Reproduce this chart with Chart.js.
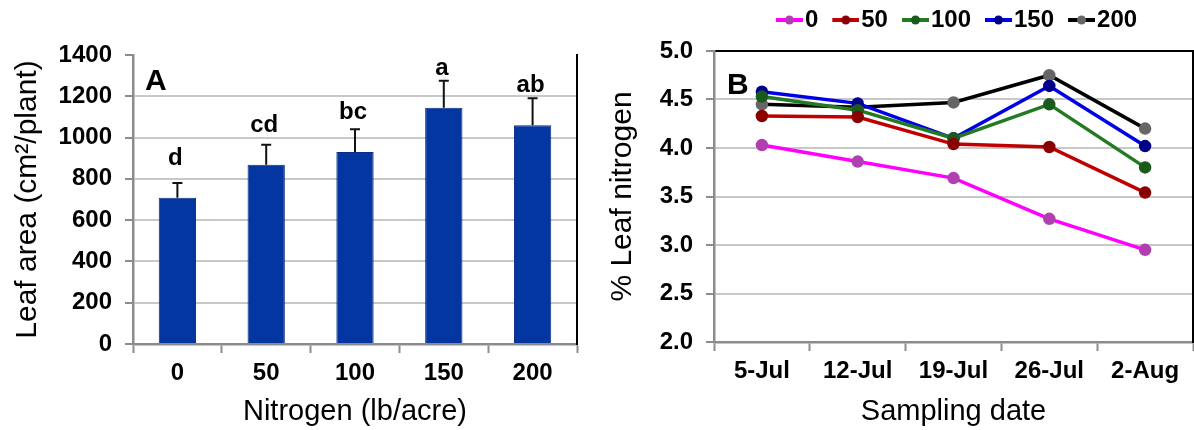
<!DOCTYPE html>
<html>
<head>
<meta charset="utf-8">
<script src="https://cdn.jsdelivr.net/npm/chart.js@4.4.1/dist/chart.umd.min.js"></script>
<style>
  html, body { margin: 0; padding: 0; background: #fff; overflow: hidden; }
  #panelA { position: absolute; left: 0; top: 0; width: 600px; height: 430px; }
  #panelB { position: absolute; left: 595px; top: 0; width: 599px; height: 430px; }
</style>
</head>
<body>
<div id="panelA"><canvas id="chartA"></canvas></div>
<div id="panelB"><canvas id="chartB"></canvas></div>
<script>
// * Panel A data
const nitrogenRates = ["0", "50", "100", "150", "200"];
const leafArea = [708, 868, 930, 1145, 1060];
const leafAreaErr = [72, 97, 110, 130, 130];
const sigLetters = ["d", "cd", "bc", "a", "ab"];

// * Panel B data
const samplingDates = ["5-Jul", "12-Jul", "19-Jul", "26-Jul", "2-Aug"];
const seriesNames = ["0", "50", "100", "150", "200"];
const n0 = [4.03, 3.86, 3.69, 3.27, 2.95];
const n50 = [4.33, 4.32, 4.04, 4.01, 3.54];
const n100 = [4.53, 4.39, 4.10, 4.45, 3.80];
const n150 = [4.58, 4.46, 4.10, 4.64, 4.02];
const n200 = [4.45, 4.42, 4.47, 4.75, 4.20];

const lineColors = ["#ff00ff", "#c00000", "#237a23", "#0000e6", "#000000"];
const dotColors = ["#b040b0", "#8a0000", "#1a5a1a", "#00008b", "#666666"];

Chart.defaults.font.family = "'Liberation Sans', Arial, sans-serif";
Chart.defaults.color = "#000";

const axisGrey = "#8c8c8c";
const gridGrey = "#c8c8c8";

// * Draws the "A" / "B" panel letter inside the plot
const panelLetter = {
    id: "panelLetter",
    afterDraw(chart, args, opts) {
        const { ctx, chartArea } = chart;
        ctx.save();
        ctx.font = "bold 30px 'Liberation Sans', Arial";
        ctx.fillStyle = "#000";
        ctx.fillText(opts.text, chartArea.left + opts.dx, chartArea.top + opts.dy);
        ctx.restore();
    },
};

// * Upper error bars and significance letters for panel A
const errorBars = {
    id: "errorBars",
    afterDatasetsDraw(chart) {
        const ctx = chart.ctx;
        const y = chart.scales.y;
        const meta = chart.getDatasetMeta(0);
        ctx.save();
        ctx.strokeStyle = "#111";
        ctx.lineWidth = 2;
        meta.data.forEach((bar, i) => {
            const top = y.getPixelForValue(leafArea[i] + leafAreaErr[i]);
            ctx.beginPath();
            ctx.moveTo(bar.x, bar.y);
            ctx.lineTo(bar.x, top);
            ctx.moveTo(bar.x - 5, top);
            ctx.lineTo(bar.x + 5, top);
            ctx.stroke();
            ctx.font = "bold 24px 'Liberation Sans', Arial";
            ctx.textAlign = "center";
            ctx.fillStyle = "#000";
            ctx.fillText(sigLetters[i], bar.x - 2, bar.y - 33);
        });
        ctx.restore();
    },
};

// * Fixed axis sizes so the plot areas sit where the original ones do
const fixHeight = (h) => (s) => {
    s.height = h;
};
const fixWidth = (w) => (s) => {
    s.width = w;
};

new Chart(document.getElementById("chartA"), {
    type: "bar",
    data: {
        labels: nitrogenRates,
        datasets: [
            {
                data: leafArea,
                backgroundColor: "#0436a2",
                borderColor: "#0a2c84",
                borderWidth: 1,
                categoryPercentage: 1,
                barPercentage: 0.42,
            },
        ],
    },
    options: {
        responsive: true,
        maintainAspectRatio: false,
        animation: false,
        layout: { autoPadding: false, padding: { top: 55, right: 23, left: 0, bottom: 0 } },
        plugins: {
            legend: { display: false },
            tooltip: { enabled: false },
            panelLetter: { text: "A", dx: 12, dy: 35 },
        },
        scales: {
            x: {
                grid: { offset: true, drawOnChartArea: false, tickLength: 9, tickColor: axisGrey, tickWidth: 2 },
                border: { color: axisGrey, width: 2.5 },
                ticks: { font: { size: 24, weight: "bold" }, padding: 6 },
                title: { display: true, text: "Nitrogen (lb/acre)", font: { size: 29 }, padding: { top: 0, bottom: 1 } },
                afterFit: fixHeight(86),
            },
            y: {
                min: 0,
                max: 1400,
                ticks: {
                    stepSize: 200,
                    font: { size: 24, weight: "bold" },
                    padding: 13,
                    callback: (v) => String(v),
                },
                grid: {
                    color: (c) => (c.tick && c.tick.value === 1400 ? "rgba(0,0,0,0)" : gridGrey),
                    lineWidth: 2,
                    tickLength: 8,
                    tickColor: axisGrey,
                    tickWidth: 2,
                },
                border: { color: axisGrey, width: 2.5 },
                title: { display: true, text: "Leaf area (cm²/plant)", font: { size: 30 }, padding: { top: 10 } },
                afterFit: fixWidth(133),
            },
            y2: {
                position: "right",
                ticks: { display: false },
                grid: { display: false },
                border: { color: "#000", width: 2 },
                afterFit: fixWidth(0),
            },
        },
    },
    plugins: [errorBars, panelLetter],
});

// * Legend symbol: short line with a dot, drawn on a small canvas
function legendIcon(lineColor, dotColor) {
    const c = document.createElement("canvas");
    c.width = 43;
    c.height = 12;
    const g = c.getContext("2d");
    g.strokeStyle = lineColor;
    g.lineWidth = 4;
    g.beginPath();
    g.moveTo(16, 6);
    g.lineTo(43, 6);
    g.stroke();
    g.fillStyle = dotColor;
    g.beginPath();
    g.arc(29.5, 6, 4.5, 0, Math.PI * 2);
    g.fill();
    return c;
}
const legendIcons = lineColors.map((c, i) => legendIcon(c, dotColors[i]));

const seriesValues = [n0, n50, n100, n150, n200];

new Chart(document.getElementById("chartB"), {
    type: "line",
    data: {
        labels: samplingDates,
        datasets: seriesValues.map((vals, i) => ({
            label: seriesNames[i],
            data: vals,
            borderColor: lineColors[i],
            backgroundColor: lineColors[i],
            borderWidth: 3.5,
            pointRadius: 4.5,
            pointBackgroundColor: dotColors[i],
            pointBorderColor: dotColors[i],
            tension: 0,
        })),
    },
    options: {
        responsive: true,
        maintainAspectRatio: false,
        animation: false,
        // * autoPadding off, otherwise the point radius eats a few pixels on the right
        layout: { autoPadding: false, padding: { top: 0, right: 1, left: 0, bottom: 0 } },
        plugins: {
            tooltip: { enabled: false },
            panelLetter: { text: "B", dx: 13, dy: 35 },
            legend: {
                position: "top",
                fullSize: false,
                labels: {
                    usePointStyle: true,
                    pointStyleWidth: 23,
                    padding: 8,
                    font: { size: 24, weight: "bold" },
                    color: "#000",
                    generateLabels: (chart) =>
                        Chart.defaults.plugins.legend.labels
                            .generateLabels(chart)
                            .map((item, i) => ({ ...item, pointStyle: legendIcons[i] })),
                },
            },
        },
        scales: {
            x: {
                offset: true,
                grid: { offset: true, drawOnChartArea: false, tickLength: 9, tickColor: axisGrey, tickWidth: 2 },
                border: { color: axisGrey, width: 2.5 },
                ticks: { font: { size: 24, weight: "bold" }, padding: 6 },
                title: { display: true, text: "Sampling date", font: { size: 29 }, padding: { top: 0, bottom: 1 } },
                afterFit: fixHeight(88),
            },
            x2: {
                type: "category",
                position: "top",
                ticks: { display: false },
                grid: { display: false },
                border: { color: "#000", width: 2 },
                afterFit: fixHeight(9),
            },
            y: {
                min: 2,
                max: 5,
                ticks: {
                    stepSize: 0.5,
                    font: { size: 24, weight: "bold" },
                    padding: 13,
                    callback: (v) => v.toFixed(1),
                },
                grid: { color: gridGrey, lineWidth: 2, tickLength: 8, tickColor: axisGrey, tickWidth: 2 },
                border: { color: axisGrey, width: 2.5 },
                title: { display: true, text: "% Leaf nitrogen", font: { size: 30 }, padding: { top: 10 } },
                afterFit: fixWidth(119),
            },
            y2: {
                position: "right",
                ticks: { display: false },
                grid: { display: false },
                border: { color: "#000", width: 2 },
                afterFit: fixWidth(0),
            },
        },
    },
    plugins: [panelLetter],
});
</script>
</body>
</html>
